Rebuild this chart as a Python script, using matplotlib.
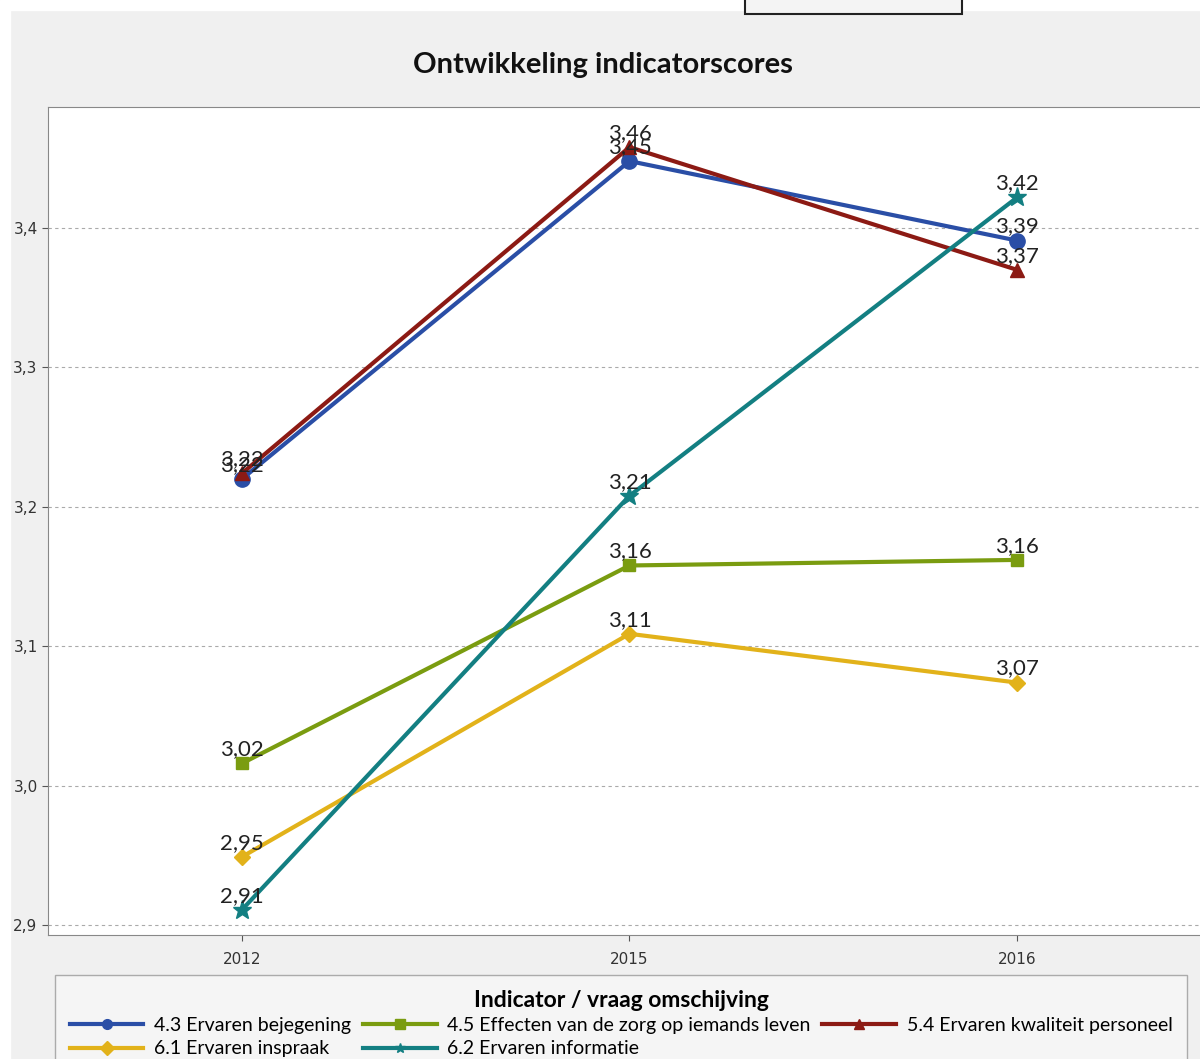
"""
Ontwikkeling indicatorscores: line chart of five indicators over three survey years.
"""

import matplotlib
matplotlib.use("Agg")
import matplotlib.pyplot as plt
from matplotlib.patches import Rectangle

# Data
years = ["2012", "2015", "2016"]
bejegening = [3.220, 3.448, 3.391]
effecten = [3.016, 3.158, 3.162]
kwaliteit = [3.224, 3.458, 3.370]
inspraak = [2.949, 3.109, 3.074]
informatie = [2.911, 3.208, 3.422]

series_names = [
    "4.3 Ervaren bejegening",
    "4.5 Effecten van de zorg op iemands leven",
    "5.4 Ervaren kwaliteit personeel",
    "6.1 Ervaren inspraak",
    "6.2 Ervaren informatie",
]
y_ticks = [2.9, 3.0, 3.1, 3.2, 3.3, 3.4]


def main():
    plt.rcParams["font.family"] = ["Lato", "DejaVu Sans"]

    fig = plt.figure(figsize=(12, 10.59), dpi=100, facecolor="#f0f0f0")
    ax = fig.add_axes([48 / 1200, 1 - 935 / 1059, 1163 / 1200, 828 / 1059])
    ax.set_facecolor("white")

    # white strips and the little box at the top edge
    fig.patches.append(Rectangle((0, 1 - 10 / 1059), 1, 10 / 1059,
                                 transform=fig.transFigure, color="white", zorder=0))
    fig.patches.append(Rectangle((0, 0), 10 / 1200, 1,
                                 transform=fig.transFigure, color="white", zorder=0))
    fig.patches.append(Rectangle((745 / 1200, 1 - 14 / 1059), 217 / 1200, 20 / 1059,
                                 transform=fig.transFigure, facecolor="#f4f4f4",
                                 edgecolor="#222222", lw=1.5, zorder=1))

    x = list(range(len(years)))
    styles = [
        (bejegening, "#2a4ea6", "o", 11),
        (effecten, "#7a9c10", "s", 9),
        (kwaliteit, "#8c1a14", "^", 10),
        (inspraak, "#e2b21a", "D", 8),
        (informatie, "#137f82", "*", 14),
    ]

    handles = []
    for (vals, color, marker, ms), name in zip(styles, series_names):
        line, = ax.plot(x, vals, color=color, lw=3, marker=marker, ms=ms,
                        label=name, zorder=3)
        handles.append(line)
        for xi, v in zip(x, vals):
            ax.annotate(f"{v:.2f}".replace(".", ","), (xi, v),
                        xytext=(0, 3), textcoords="offset points",
                        ha="center", va="bottom", fontsize=16, color="#222222",
                        zorder=4)

    ax.set_xlim(-0.5, 2.5)
    ax.set_ylim(2.893, 3.4868)
    ax.set_xticks(x)
    ax.set_xticklabels(years, family="DejaVu Sans")
    ax.set_yticks(y_ticks)
    ax.set_yticklabels([f"{t:.1f}".replace(".", ",") for t in y_ticks],
                       family="DejaVu Sans")
    ax.tick_params(axis="both", labelsize=11, colors="#555555", labelcolor="#333333",
                   length=4)
    ax.tick_params(axis="x", pad=8)
    ax.grid(axis="y", linestyle=(0, (3, 3)), color="#aaaaaa", lw=0.8)
    ax.set_axisbelow(True)
    for spine in ax.spines.values():
        spine.set_color("#888888")

    fig.text(603 / 1200, 1 - 65 / 1059, "Ontwikkeling indicatorscores",
             ha="center", va="center", fontsize=21, fontweight="bold", color="#111111")

    order = [0, 3, 1, 4, 2]
    leg = fig.legend([handles[i] for i in order], [series_names[i] for i in order],
                     loc="upper left", bbox_to_anchor=(55 / 1200, 1 - 975 / 1059),
                     borderaxespad=0, ncol=3, handlelength=3.8, fontsize=14,
                     frameon=True, title="Indicator / vraag omschijving",
                     title_fontproperties={"weight": "bold", "size": 16.5},
                     borderpad=0.75, labelspacing=0.33, columnspacing=0.6,
                     handletextpad=0.55, fancybox=False)
    leg.get_frame().set_edgecolor("#999999")
    leg.get_frame().set_facecolor("#f7f7f7")
    for h in leg.legend_handles:
        h.set_markersize(7)

    fig.savefig("out.png", dpi=100, facecolor=fig.get_facecolor())


if __name__ == "__main__":
    main()
